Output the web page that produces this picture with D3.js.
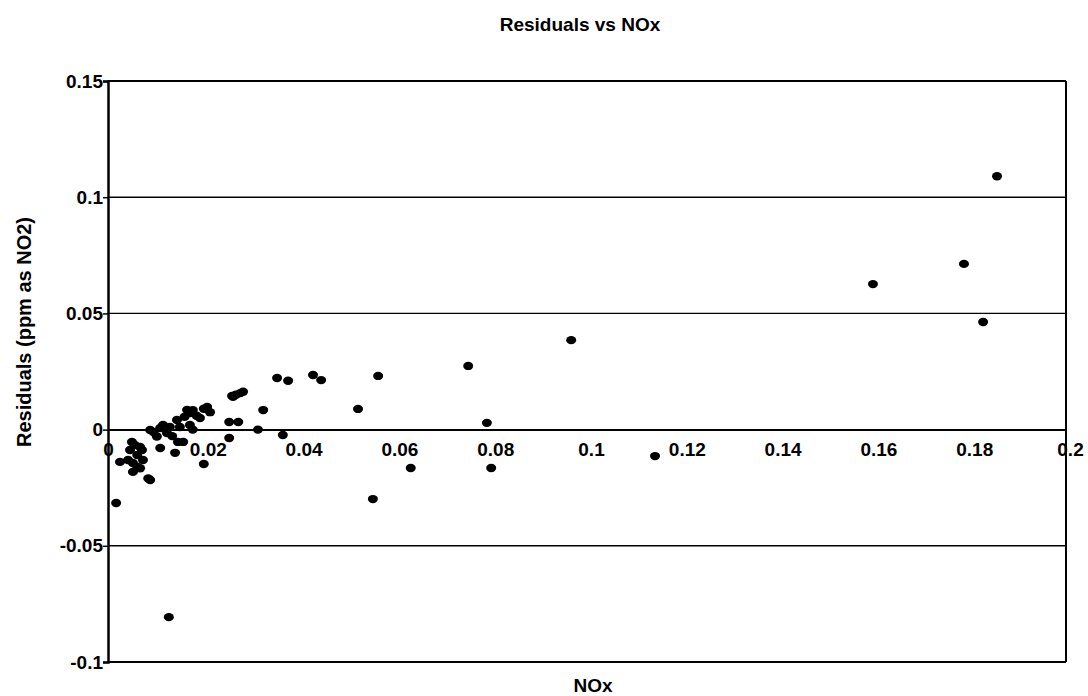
<!DOCTYPE html>
<html>
<head>
<meta charset="utf-8">
<script src="https://cdn.jsdelivr.net/npm/d3@7"></script>
<style>
  body { margin: 0; background: #fff; }
  svg text { font-family: Arial, "Liberation Sans", sans-serif; font-weight: bold; fill: #000; }
</style>
</head>
<body>
<svg id="chart" width="1088" height="696"></svg>
<script>
// NOx values (x) and residuals (y)
var noxValues = [
  0.1856, 0.1787, 0.1597, 0.1827, 0.1142, 0.0967, 0.0752, 0.0791, 0.0800,
  0.0564, 0.0522, 0.0632, 0.0553, 0.0353, 0.0376, 0.0428, 0.0445,
  0.0324, 0.0313, 0.0365, 0.0276, 0.0259, 0.0267, 0.0272, 0.0253, 0.0253,
  0.0200, 0.0261, 0.0282, 0.0207, 0.0213, 0.0177, 0.0192, 0.0171, 0.0200,
  0.0144, 0.0150, 0.0171, 0.0177, 0.0185, 0.0160,
  0.0129, 0.0109, 0.0088, 0.0102, 0.0123, 0.0134, 0.0109, 0.0140,
  0.0146, 0.0157, 0.0088, 0.0084,
  0.0050, 0.0056, 0.0067, 0.0046, 0.0061, 0.0071,
  0.0025, 0.0042, 0.0052, 0.0073, 0.0061, 0.0052, 0.0067,
  0.0017, 0.0127, 0.0095, 0.0115, 0.0165
];
var residualValues = [
  0.1090, 0.0713, 0.0626, 0.0463, -0.0114, 0.0385, 0.0274, 0.0029, -0.0165,
  0.0231, 0.0089, -0.0165, -0.0299, 0.0222, 0.0210, 0.0235, 0.0213,
  0.0084, 0.0000, -0.0023, 0.0157, 0.0145, 0.0150, 0.0033, 0.0033, -0.0036,
  -0.0148, 0.0141, 0.0163, 0.0097, 0.0075, 0.0084, 0.0050, 0.0071, 0.0090,
  0.0041, 0.0011, 0.0020, 0.0000, 0.0060, 0.0055,
  0.0011, 0.0007, -0.0002, -0.0030, -0.0015, -0.0028, -0.0079, -0.0100,
  -0.0053, -0.0053, -0.0217, -0.0210,
  -0.0053, -0.0066, -0.0075, -0.0088, -0.0109, -0.0088,
  -0.0139, -0.0131, -0.0144, -0.0131, -0.0160, -0.0182, -0.0166,
  -0.0316, -0.0807, -0.0010, 0.0020, 0.0085
];
var xTicks = [0, 0.02, 0.04, 0.06, 0.08, 0.1, 0.12, 0.14, 0.16, 0.18, 0.2];
var yTicks = [-0.1, -0.05, 0, 0.05, 0.1, 0.15];

var svg = d3.select("#chart");
// plot box in pixels
var plotL = 108, plotR = 1066, plotT = 81, plotB = 662;

var x = d3.scaleLinear().domain([0, 0.2]).range([plotL, plotR]);
var y = d3.scaleLinear().domain([-0.1, 0.15]).range([plotB, plotT]);

// plain hyphen, like the original
var fmt = function(d) { return String(+d.toFixed(2)); };

// title
svg.append("text").attr("x", 580).attr("y", 31).attr("text-anchor", "middle")
  .style("font-size", "19px").text("Residuals vs NOx");

// gridlines (and top / bottom border)
svg.append("g").selectAll("line").data(yTicks).enter().append("line")
  .attr("x1", plotL).attr("x2", plotR)
  .attr("y1", function(d) { return y(d); }).attr("y2", function(d) { return y(d); })
  .attr("stroke", "#000")
  .attr("stroke-width", function(d) { return (d === 0.15 || d === -0.1) ? 2 : 1.4; });

// right border
svg.append("line").attr("x1", plotR).attr("x2", plotR).attr("y1", plotT).attr("y2", plotB)
  .attr("stroke", "#000").attr("stroke-width", 2);

// y axis
var yAxis = d3.axisLeft(y).tickValues(yTicks).tickSize(5).tickPadding(0).tickFormat(fmt);
var gy = svg.append("g").attr("transform", "translate(" + plotL + ",0)").call(yAxis);
gy.select(".domain").attr("stroke", "#000").attr("stroke-width", 2.5);
gy.selectAll(".tick line").attr("stroke", "#000").attr("stroke-width", 1.5);
gy.selectAll("text").style("font-size", "19px").attr("font-family", null);

// x axis at zero
var xAxis = d3.axisBottom(x).tickValues(xTicks).tickSize(0).tickPadding(13).tickFormat(fmt);
var gx = svg.append("g").attr("transform", "translate(0," + y(0) + ")").call(xAxis);
gx.select(".domain").attr("stroke", "#000").attr("stroke-width", 2);
gx.selectAll("text").style("font-size", "19px").attr("font-family", null)
  .attr("dx", function(d) { return d === 0 ? 0 : 4; });

// points
var pts = d3.range(noxValues.length).map(function(i) { return [noxValues[i], residualValues[i]]; });
svg.append("g").selectAll("ellipse").data(pts).enter().append("ellipse")
  .attr("cx", function(d) { return x(d[0]); })
  .attr("cy", function(d) { return y(d[1]); })
  .attr("rx", 5).attr("ry", 4.2)
  .attr("fill", "#000");

// axis titles
svg.append("text").attr("x", 593).attr("y", 692).attr("text-anchor", "middle")
  .style("font-size", "19px").text("NOx");
svg.append("text").attr("transform", "translate(31,332) rotate(-90)").attr("text-anchor", "middle")
  .style("font-size", "20px").text("Residuals (ppm as NO2)");
</script>
</body>
</html>
